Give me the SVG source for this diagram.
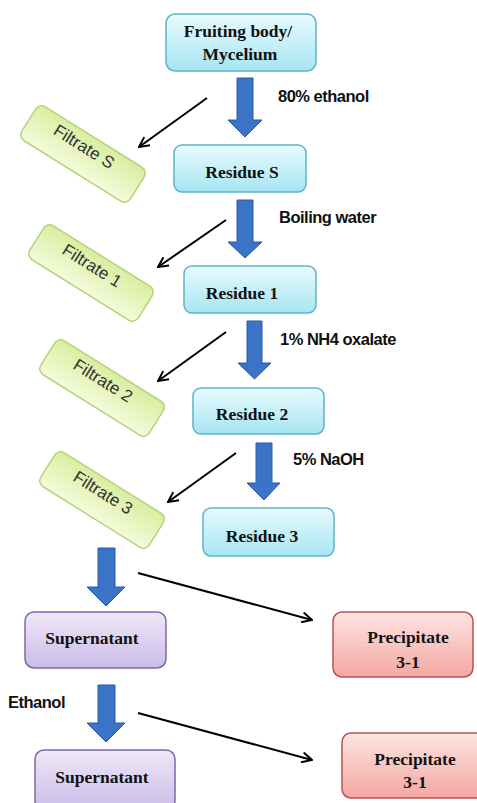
<svg xmlns="http://www.w3.org/2000/svg" width="477" height="803" viewBox="0 0 477 803">
<defs>
<linearGradient id="gCyan" x1="0" y1="0" x2="0" y2="1"><stop offset="0" stop-color="#e9fbfe"/><stop offset="1" stop-color="#a6e5f2"/></linearGradient>
<linearGradient id="gLime" x1="0" y1="0" x2="0" y2="1"><stop offset="0" stop-color="#d9ee9e"/><stop offset="1" stop-color="#f4fbdc"/></linearGradient>
<linearGradient id="gLav" x1="0" y1="0" x2="0" y2="1"><stop offset="0" stop-color="#efe8f8"/><stop offset="1" stop-color="#cbbce8"/></linearGradient>
<linearGradient id="gPink" x1="0" y1="0" x2="0" y2="1"><stop offset="0" stop-color="#fde4e2"/><stop offset="1" stop-color="#f4a7a2"/></linearGradient>
<marker id="ah" viewBox="0 0 12 12" refX="11" refY="6" markerWidth="12" markerHeight="12" markerUnits="userSpaceOnUse" orient="auto">
<path d="M1,1 L11,6 L1,11" fill="none" stroke="#000" stroke-width="2"/>
</marker>
<style>
.cyan{fill:url(#gCyan);stroke:#5fb3c8;stroke-width:1.5}
.lime{fill:url(#gLime);stroke:#b8d27e;stroke-width:1.5}
.lav{fill:url(#gLav);stroke:#7d68ab;stroke-width:1.5}
.pink{fill:url(#gPink);stroke:#b9514d;stroke-width:1.5}
.lbl{font-family:"Liberation Serif","Times New Roman",serif;font-weight:bold;font-size:17.5px;fill:#111;text-anchor:middle}
.step{font-family:"Liberation Sans",Arial,sans-serif;font-weight:bold;font-size:16.5px;fill:#111;letter-spacing:-0.5px}
.fil{font-family:"Liberation Sans",Arial,sans-serif;font-size:17px;fill:#333;text-anchor:middle}
.blue{fill:#3b73c6;stroke:#2a5aa6;stroke-width:1}
.thin{stroke:#000;stroke-width:2;fill:none;marker-end:url(#ah)}
</style>
</defs>
<rect width="477" height="803" fill="#fff"/>

<g id="fruiting">
<rect class="cyan" x="166" y="14" width="150" height="57" rx="9"/>
<text class="lbl" x="238" y="37">Fruiting  body/</text>
<text class="lbl" x="240" y="60">Mycelium</text>
</g>
<g id="residueS">
<rect class="cyan" x="174" y="145" width="132" height="47" rx="8"/>
<text class="lbl" x="242" y="178">Residue S</text>
</g>
<g id="residue1">
<rect class="cyan" x="184" y="266" width="132" height="47" rx="8"/>
<text class="lbl" x="242" y="299">Residue 1</text>
</g>
<g id="residue2">
<rect class="cyan" x="193" y="388" width="131" height="46" rx="8"/>
<text class="lbl" x="252" y="420">Residue 2</text>
</g>
<g id="residue3">
<rect class="cyan" x="203" y="508" width="131" height="48" rx="8"/>
<text class="lbl" x="262" y="542">Residue 3</text>
</g>

<g id="filtrateS" transform="translate(83,154) rotate(32)">
<rect class="lime" x="-64" y="-20" width="128" height="40" rx="7"/>
<text class="fil" x="-3" y="-1">Filtrate S</text>
</g>
<g id="filtrate1" transform="translate(91,273) rotate(32)">
<rect class="lime" x="-64" y="-20" width="128" height="40" rx="7"/>
<text class="fil" x="-3" y="-1">Filtrate 1</text>
</g>
<g id="filtrate2" transform="translate(102,388) rotate(32)">
<rect class="lime" x="-64" y="-20" width="128" height="40" rx="7"/>
<text class="fil" x="-3" y="-1">Filtrate 2</text>
</g>
<g id="filtrate3" transform="translate(102,500) rotate(32)">
<rect class="lime" x="-64" y="-20" width="128" height="40" rx="7"/>
<text class="fil" x="-3" y="-1">Filtrate 3</text>
</g>

<g id="supernatant1">
<rect class="lav" x="25" y="612" width="141" height="56" rx="9"/>
<text class="lbl" x="92" y="644">Supernatant</text>
</g>
<g id="supernatant2">
<rect class="lav" x="35" y="750" width="140" height="60" rx="9"/>
<text class="lbl" x="102" y="783">Supernatant</text>
</g>
<g id="precipitate1">
<rect class="pink" x="333" y="612" width="140" height="65" rx="9"/>
<text class="lbl" x="408" y="643">Precipitate</text>
<text class="lbl" x="408" y="668">3-1</text>
</g>
<g id="precipitate2">
<rect class="pink" x="342" y="733" width="145" height="65" rx="9"/>
<text class="lbl" x="415" y="765">Precipitate</text>
<text class="lbl" x="415" y="788">3-1</text>
</g>

<g id="connectors">
<path class="blue" d="M237,78 H253 V120 H262 L245,137 L228,120 H237 Z"/>
<path class="blue" d="M237,200 H253 V242 H262 L245,258 L228,242 H237 Z"/>
<path class="blue" d="M247,321 H262 V363 H271 L254.5,379 L238,363 H247 Z"/>
<path class="blue" d="M256,443 H272 V483 H280 L264,500 L247,483 H256 Z"/>
<path class="blue" d="M98,548 H115 V587 H125 L106,606 L87,587 H98 Z"/>
<path class="blue" d="M98,685 H115 V723 H125 L106,742 L87,723 H98 Z"/>
<line class="thin" x1="207" y1="98" x2="139" y2="147"/>
<line class="thin" x1="226" y1="220" x2="158" y2="267"/>
<line class="thin" x1="226" y1="332" x2="158" y2="381"/>
<line class="thin" x1="236" y1="453" x2="168" y2="502"/>
<line class="thin" x1="138" y1="573" x2="312" y2="620"/>
<line class="thin" x1="138" y1="713" x2="312" y2="760"/>
</g>

<g id="labels">
<text class="step" x="278" y="102">80% ethanol</text>
<text class="step" x="279" y="223">Boiling water</text>
<text class="step" x="280" y="345">1% NH4 oxalate</text>
<text class="step" x="293" y="465">5% NaOH</text>
<text class="step" x="8" y="708">Ethanol</text>
</g>
</svg>
